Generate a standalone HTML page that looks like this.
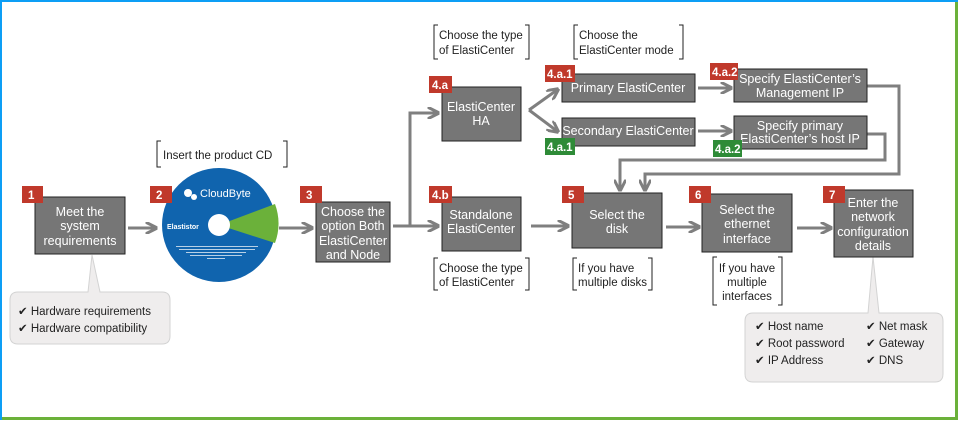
<!DOCTYPE html>
<html><head><meta charset="utf-8"><style>
body{margin:0;background:#fff}
svg text{font-family:"Liberation Sans","DejaVu Sans",sans-serif}
</style></head><body>
<svg width="958" height="420" viewBox="0 0 958 420" xmlns="http://www.w3.org/2000/svg">
<defs>
<marker id="a" viewBox="0 0 10 10" refX="8" refY="5" markerWidth="4" markerHeight="4" orient="auto"><path d="M0,0 L10,5 L0,10" fill="none" stroke="#7f7f7f" stroke-width="2.5"/></marker>
</defs>
<rect x="0" y="0" width="958" height="420" fill="#fff"/>
<rect x="0" y="0" width="958" height="2" fill="#0d9ef5"/>
<rect x="0" y="0" width="2" height="420" fill="#0d9ef5"/>
<rect x="955" y="2" width="3" height="418" fill="#6bb13a"/>
<rect x="2" y="417" width="956" height="3" fill="#6bb13a"/>

<g stroke="#7f7f7f" stroke-width="3" fill="none" marker-end="url(#a)">
<line x1="128" y1="228" x2="155" y2="228"/>
<line x1="279" y1="228" x2="311" y2="228"/>
<line x1="393" y1="226" x2="437" y2="226"/>
<polyline points="410,226 410,113 437,113"/>
<line x1="529" y1="110" x2="557" y2="90"/>
<line x1="529" y1="110" x2="557" y2="131"/>
<line x1="698" y1="88" x2="730" y2="88"/>
<line x1="698" y1="131" x2="730" y2="131"/>
<polyline points="867,86 899,86 899,174 645,174 645,189"/>
<polyline points="867,134 885,134 885,160 620,160 620,189"/>
<line x1="531" y1="226" x2="567" y2="226"/>
<line x1="666" y1="227" x2="698" y2="227"/>
<line x1="797" y1="228" x2="830" y2="228"/>
</g>

<!-- callouts -->
<path d="M18,292 H88 L92,255 L100,292 H162 Q170,292 170,300 V336 Q170,344 162,344 H18 Q10,344 10,336 V300 Q10,292 18,292Z" fill="#efeded" stroke="#d3d3d3"/>
<path d="M753,313 H868 L873,257 L879,313 H935 Q943,313 943,321 V374 Q943,382 935,382 H753 Q745,382 745,374 V321 Q745,313 753,313Z" fill="#efeded" stroke="#d3d3d3"/>
<g font-size="11.5" fill="#222">
<text x="18" y="315">✔ Hardware requirements</text>
<text x="18" y="332">✔ Hardware compatibility</text>
<text x="755" y="330">✔ Host name</text>
<text x="755" y="347">✔ Root password</text>
<text x="755" y="364">✔ IP Address</text>
<text x="866" y="330">✔ Net mask</text>
<text x="866" y="347">✔ Gateway</text>
<text x="866" y="364">✔ DNS</text>
</g>

<!-- CD -->
<circle cx="219" cy="225" r="57" fill="#1064ae"/>
<path d="M219,225 L275,204 A57,57 0 0,1 275,243 Z" fill="#6bb13a"/>
<circle cx="219" cy="225" r="11" fill="#fff"/>
<text x="200" y="197" font-size="11" fill="#fff">CloudByte</text>
<circle cx="188" cy="193" r="4" fill="#fff"/><circle cx="194" cy="197" r="3" fill="#fff"/>
<text x="167" y="229" font-size="7" fill="#fff" font-weight="bold">Elastistor</text>
<g fill="#fff" opacity="0.7"><rect x="176" y="246" width="82" height="1"/><rect x="179" y="249" width="76" height="1"/><rect x="186" y="252" width="60" height="1"/><rect x="190" y="255" width="52" height="1"/><rect x="207" y="258" width="18" height="1"/></g>

<!-- boxes -->
<g fill="#767676" stroke="#222" stroke-width="1">
<rect x="35" y="197" width="90" height="57"/>
<rect x="316" y="202" width="74" height="60"/>
<rect x="442" y="87" width="79" height="54"/>
<rect x="442" y="197" width="79" height="54"/>
<rect x="562" y="74" width="133" height="28"/>
<rect x="562" y="118" width="133" height="28"/>
<rect x="734" y="69" width="133" height="33"/>
<rect x="734" y="116" width="133" height="33"/>
<rect x="572" y="193" width="90" height="55"/>
<rect x="702" y="194" width="90" height="58"/>
<rect x="834" y="190" width="79" height="67"/>
</g>
<g font-size="12.5" fill="#fff" text-anchor="middle">
<text x="80" y="216">Meet the</text><text x="80" y="230">system</text><text x="80" y="245">requirements</text>
<text x="353" y="216">Choose the</text><text x="353" y="230">option Both</text><text x="353" y="245">ElastiCenter</text><text x="353" y="259">and Node</text>
<text x="481" y="111">ElastiCenter</text><text x="481" y="125">HA</text>
<text x="481" y="219">Standalone</text><text x="481" y="233">ElastiCenter</text>
<text x="628" y="92">Primary ElastiCenter</text>
<text x="628" y="135">Secondary ElastiCenter</text>
<text x="800" y="83">Specify ElastiCenter’s</text><text x="800" y="97">Management IP</text>
<text x="800" y="130">Specify primary</text><text x="800" y="143">ElastiCenter’s host IP</text>
<text x="617" y="219">Select the</text><text x="617" y="233">disk</text>
<text x="747" y="214">Select the</text><text x="747" y="228">ethernet</text><text x="747" y="243">interface</text>
<text x="873" y="207">Enter the</text><text x="873" y="221">network</text><text x="873" y="236">configuration</text><text x="873" y="250">details</text>
</g>

<!-- badges -->
<g fill="#c0392b">
<rect x="22" y="186" width="21" height="17"/>
<rect x="150" y="186" width="22" height="17"/>
<rect x="300" y="186" width="22" height="17"/>
<rect x="429" y="76" width="23" height="17"/>
<rect x="429" y="186" width="23" height="17"/>
<rect x="545" y="65" width="30" height="17"/>
<rect x="710" y="63" width="28" height="17"/>
<rect x="562" y="186" width="22" height="17"/>
<rect x="689" y="186" width="22" height="17"/>
<rect x="823" y="186" width="22" height="17"/>
</g>
<g fill="#2e8b37">
<rect x="545" y="138" width="30" height="17"/>
<rect x="713" y="140" width="29" height="17"/>
</g>
<g font-size="11.5" fill="#fff" font-weight="bold">
<text x="28" y="199">1</text><text x="156" y="199">2</text><text x="306" y="199">3</text>
<text x="432" y="89">4.a</text><text x="432" y="199">4.b</text>
<text x="547" y="78">4.a.1</text><text x="712" y="76">4.a.2</text>
<text x="547" y="151">4.a.1</text><text x="715" y="153">4.a.2</text>
<text x="568" y="199">5</text><text x="695" y="199">6</text><text x="829" y="199">7</text>
</g>

<!-- brackets -->
<g fill="none" stroke="#222" stroke-width="1">
<path d="M161,141 h-4 v26 h4 M283,141 h4 v26 h-4"/>
<path d="M438,25 h-4 v34 h4 M525,25 h4 v34 h-4"/>
<path d="M578,25 h-4 v34 h4 M679,25 h4 v34 h-4"/>
<path d="M438,258 h-4 v32 h4 M525,258 h4 v32 h-4"/>
<path d="M577,258 h-4 v32 h4 M648,258 h4 v32 h-4"/>
<path d="M717,257 h-4 v48 h4 M778,257 h4 v48 h-4"/>
</g>
<g font-size="11.5" fill="#222">
<text x="163" y="159">Insert the product CD</text>
<text x="439" y="39">Choose the type</text><text x="439" y="54">of ElastiCenter</text>
<text x="579" y="39">Choose the</text><text x="579" y="54">ElastiCenter mode</text>
<text x="439" y="272">Choose the type</text><text x="439" y="286">of ElastiCenter</text>
<text x="578" y="272">If you have</text><text x="578" y="286">multiple disks</text>
<text x="747" y="272" text-anchor="middle">If you have</text><text x="747" y="286" text-anchor="middle">multiple</text><text x="747" y="300" text-anchor="middle">interfaces</text>
</g>
</svg>
</body></html>
